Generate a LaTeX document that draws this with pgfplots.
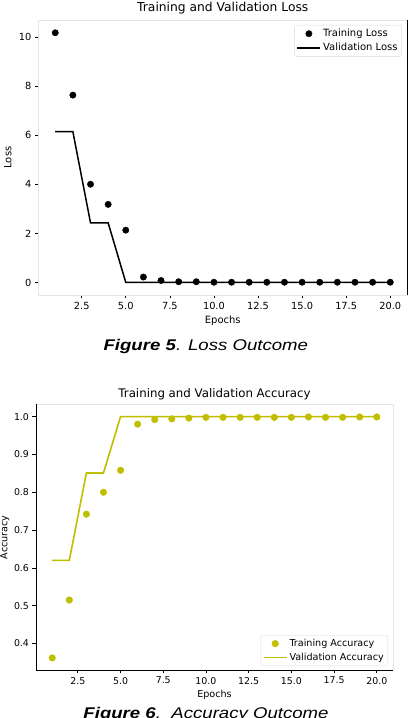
\documentclass[border=0pt]{standalone}
\usepackage{fontspec}
\setmainfont{DejaVu Sans}
\newfontfamily\capfont{Liberation Sans}
\usepackage{pgfplots}
\usepackage{pgfplotstable}
\pgfplotsset{compat=1.18}

\definecolor{mplyellow}{rgb}{0.75,0.75,0}

% Loss per epoch
\pgfplotstableread{
epoch train val
1  10.17 6.14
2  7.63  6.14
3  4.00  2.43
4  3.18  2.43
5  2.13  0.00
6  0.22  0.00
7  0.08  0.00
8  0.03  0.00
9  0.03  0.00
10 0.01  0.00
11 0.01  0.00
12 0.01  0.00
13 0.01  0.00
14 0.01  0.00
15 0.01  0.00
16 0.01  0.00
17 0.01  0.00
18 0.01  0.00
19 0.01  0.00
20 0.01  0.00
}\losstable

% Accuracy per epoch
\pgfplotstableread{
epoch train val
1  0.362 0.620
2  0.515 0.620
3  0.742 0.851
4  0.800 0.851
5  0.858 1.000
6  0.980 1.000
7  0.992 1.000
8  0.994 1.000
9  0.996 1.000
10 0.998 1.000
11 0.998 1.000
12 0.998 1.000
13 0.998 1.000
14 0.998 1.000
15 0.998 1.000
16 0.999 1.000
17 0.998 1.000
18 0.998 1.000
19 0.999 1.000
20 0.999 1.000
}\acctable

\pgfplotsset{
  mpl/.style={
    scale only axis,
    tick pos=left,
    tick align=outside,
    major tick length=3.5pt,
    every tick/.style={black, line width=0.7pt},
    axis line style={draw=black!10, line width=0.8pt},
    xmin=0.05, xmax=20.95,
    xtick={2.5,5,7.5,10,12.5,15,17.5,20},
    xticklabels={2.5,5.0,7.5,10.0,12.5,15.0,17.5,20.0},
    /pgf/number format/assume math mode=true,
    xlabel={Epochs},
    legend cell align=left,
  },
  legmark/.style={legend image code/.code={\draw[##1] plot coordinates {(11.5pt,0pt)};}},
  legline/.style={legend image code/.code={\draw[##1] (0pt,0pt) -- (23pt,0pt);}},
}

\begin{document}
\begin{tikzpicture}
\useasboundingbox (0pt,0pt) rectangle (418pt,718pt);

% ---------- Loss ----------
\begin{axis}[mpl,
  at={(38.5pt,423pt)}, anchor=south west,
  width=368.5pt, height=275pt,
  ymin=-0.51, ymax=10.69,
  ytick={0,2,4,6,8,10},
  tick label style={font=\fontsize{9.8}{11}\selectfont},
  title={Training and Validation Loss},
  title style={at={(axis description cs:0.5,1)}, anchor=center, yshift=5.5pt, font=\fontsize{12.3}{14}\selectfont},
  xlabel style={at={(axis description cs:0.5,0)}, anchor=center, yshift=-25.7pt, font=\fontsize{10}{12}\selectfont},
  ylabel={Loss},
  ylabel style={at={(axis description cs:-0.0833,0.5)}, anchor=center, rotate=0, font=\fontsize{10}{12}\selectfont},
  legend style={at={(0.986,0.982)}, anchor=north east, draw=black!15, rounded corners=2pt,
    font=\fontsize{10}{12}\selectfont, inner sep=2pt, row sep=1pt},
  after end axis/.code={\draw[black, line width=0.8pt] (rel axis cs:1,0) -- (rel axis cs:1,1);},
]
\addplot[only marks, mark=*, mark size=3.2pt, black, legmark]
  table[x=epoch, y=train] {\losstable};
\addlegendentry{Training Loss}
\addplot[black, line width=1.5pt, mark=none, legline]
  table[x=epoch, y=val] {\losstable};
\addlegendentry{Validation Loss}
\end{axis}

% ---------- Accuracy ----------
\begin{axis}[mpl,
  at={(36pt,48pt)}, anchor=south west,
  width=357pt, height=265.5pt,
  ymin=0.330, ymax=1.032,
  ytick={0.4,0.5,0.6,0.7,0.8,0.9,1.0},
  yticklabels={0.4,0.5,0.6,0.7,0.8,0.9,1.0},
  tick label style={font=\fontsize{9.4}{11}\selectfont},
  title={Training and Validation Accuracy},
  title style={at={(axis description cs:0.5,1)}, anchor=center, yshift=4.5pt, font=\fontsize{11.8}{14}\selectfont},
  xlabel style={at={(axis description cs:0.5,0)}, anchor=center, yshift=-25pt, font=\fontsize{9.6}{12}\selectfont},
  ylabel={Accuracy},
  ylabel style={at={(axis description cs:-0.087,0.5)}, anchor=center, rotate=0, font=\fontsize{9.6}{12}\selectfont},
  legend style={at={(0.986,0.015)}, anchor=south east, draw=black!15, rounded corners=2pt,
    font=\fontsize{9.6}{12}\selectfont, inner sep=2pt, row sep=1pt},
  after end axis/.code={\draw[black, line width=0.8pt] (rel axis cs:0,1) -- (rel axis cs:0,0) -- (rel axis cs:1,0);},
]
\addplot[only marks, mark=*, mark size=3.3pt, mplyellow, legmark]
  table[x=epoch, y=train] {\acctable};
\addlegendentry{Training Accuracy}
\addplot[mplyellow, line width=1.6pt, mark=none, legline]
  table[x=epoch, y=val] {\acctable};
\addlegendentry{Validation Accuracy}
\end{axis}

% ---------- Captions ----------
\node[anchor=base, xscale=1.2, font=\capfont\fontsize{15.5}{18}\selectfont] at (205.8pt,367pt)
  {\textbf{\textit{Figure 5}}\textit{. Loss Outcome}};
\node[anchor=base, xscale=1.2, font=\capfont\fontsize{15.5}{18}\selectfont] at (206pt,-1pt)
  {\textbf{\textit{Figure 6}}\textit{.\ \ Accuracy Outcome}};
\end{tikzpicture}
\end{document}
